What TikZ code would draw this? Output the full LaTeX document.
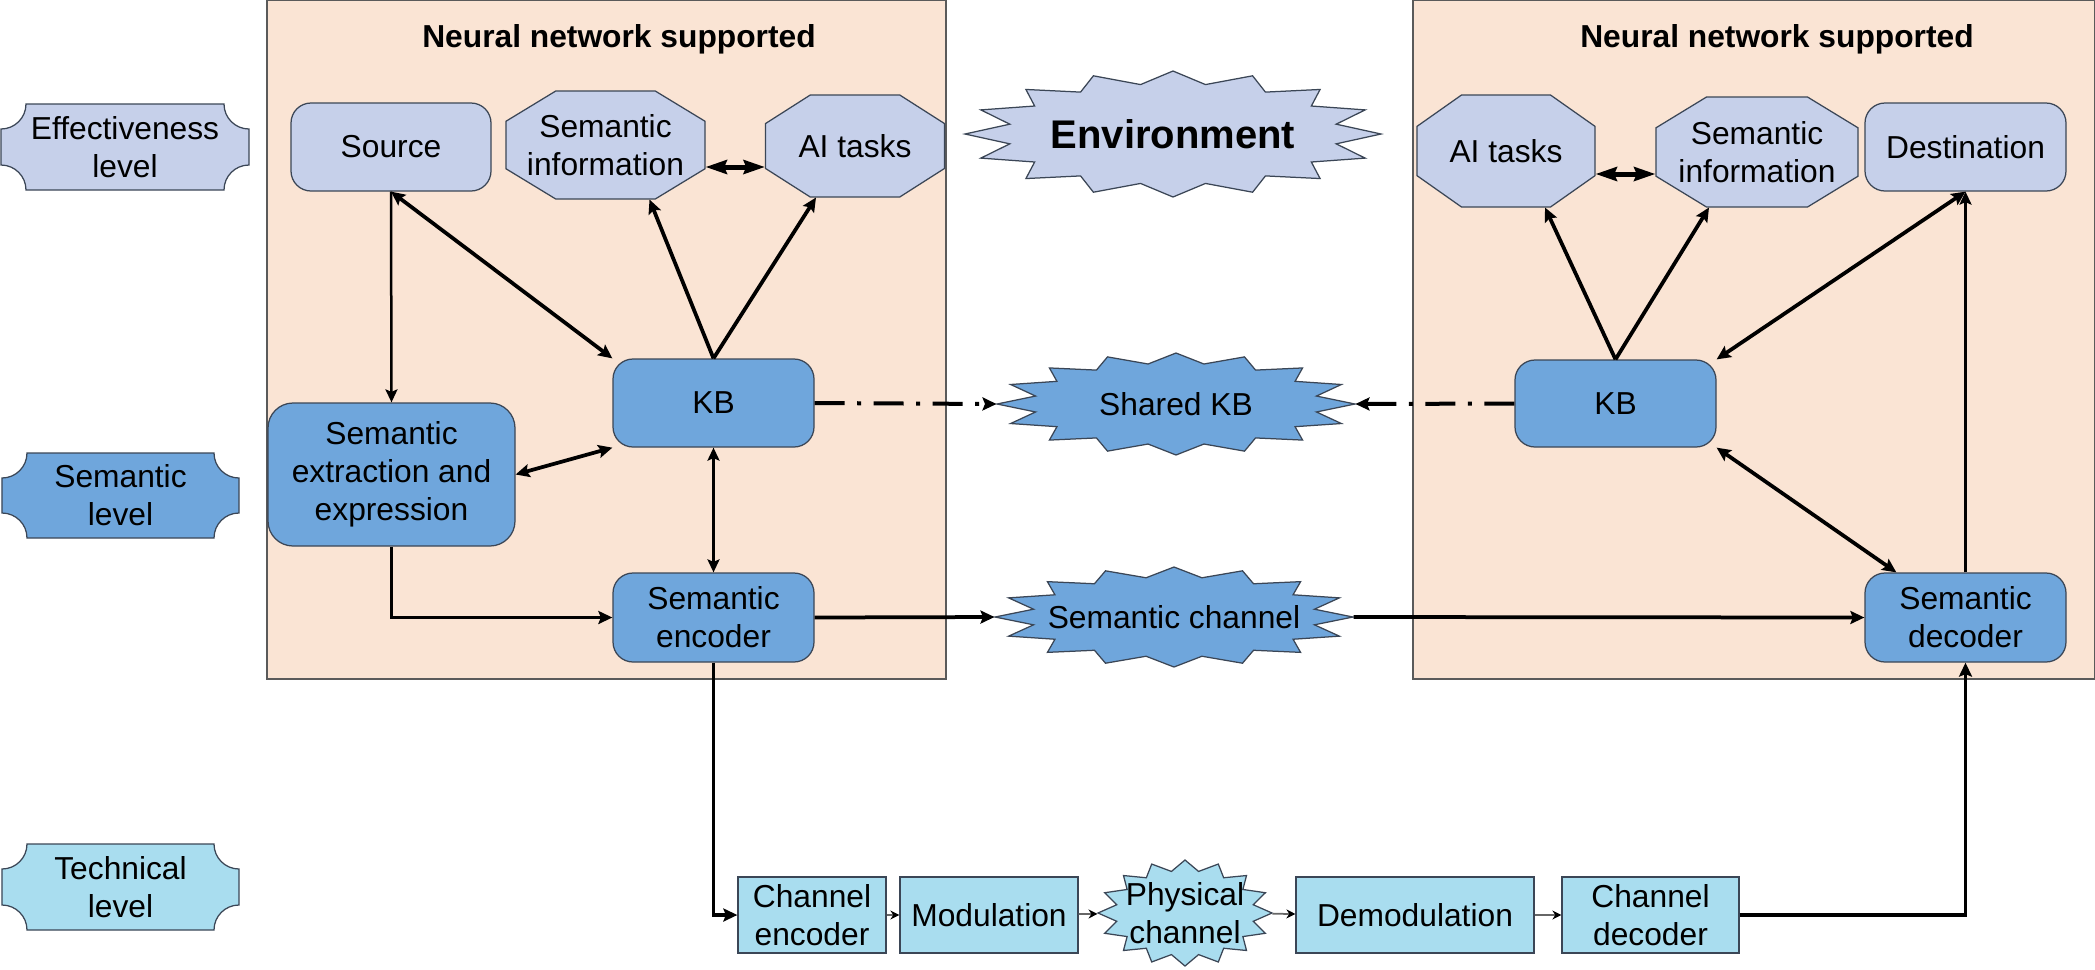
\documentclass[tikz,border=0pt]{standalone}
\usepackage{fontspec}
\setmainfont{Liberation Sans}
\usetikzlibrary{shapes.geometric,arrows.meta,calc}
\definecolor{lav}{HTML}{C6D0EA}
\definecolor{sblue}{HTML}{6FA6DC}
\definecolor{tcyan}{HTML}{A9DDEF}
\definecolor{peach}{HTML}{FAE4D4}
\definecolor{edgec}{HTML}{3B4656}
\definecolor{boxedge}{HTML}{5A5A5A}

% octagon: name, cx, cy, w, h, fill, text
\newcommand\octo[7]{%
  \pgfmathsetmacro\oxa{#2-#4/2}\pgfmathsetmacro\oxb{#2+#4/2}%
  \pgfmathsetmacro\oya{#3-#5/2}\pgfmathsetmacro\oyb{#3+#5/2}%
  \pgfmathsetmacro\ocx{0.25*#4}\pgfmathsetmacro\ocy{0.28*#5}%
  \draw[shp, fill=#6] (\oxa+\ocx,\oya) -- (\oxb-\ocx,\oya) -- (\oxb,\oya+\ocy) -- (\oxb,\oyb-\ocy) -- (\oxb-\ocx,\oyb) -- (\oxa+\ocx,\oyb) -- (\oxa,\oyb-\ocy) -- (\oxa,\oya+\ocy) -- cycle;
  \node[txt, minimum width=#4*0.4pt, minimum height=#5*0.4pt] (#1) at (#2,#3) {#7};
}
% plaque (concave corners): name, cx, cy, w, h, fill, text
\newcommand\plaque[7]{%
  \pgfmathsetmacro\pxa{#2-#4/2}\pgfmathsetmacro\pxb{#2+#4/2}%
  \pgfmathsetmacro\pya{#3-#5/2}\pgfmathsetmacro\pyb{#3+#5/2}%
  \draw[shp, fill=#6] (\pxa+25,\pya) -- (\pxb-25,\pya)
    .. controls (\pxb-25,\pya+13.8) and (\pxb-13.8,\pya+25) .. (\pxb,\pya+25)
    -- (\pxb,\pyb-25)
    .. controls (\pxb-13.8,\pyb-25) and (\pxb-25,\pyb-13.8) .. (\pxb-25,\pyb)
    -- (\pxa+25,\pyb)
    .. controls (\pxa+25,\pyb-13.8) and (\pxa+13.8,\pyb-25) .. (\pxa,\pyb-25)
    -- (\pxa,\pya+25)
    .. controls (\pxa+13.8,\pya+25) and (\pxa+25,\pya+13.8) .. (\pxa+25,\pya) -- cycle;
  \node[txt] (#1) at (#2,#3) {#7};
}
% star: name, cx, cy, rx, ry, fill, text
\newcommand\starn[7]{%
  \draw[shp, fill=#6] plot[variable=\sv, samples at={0,...,31}]
    ({#2+(1-0.2*mod(\sv,2))*#4*cos(\sv*11.25)},{#3+(1-0.2*mod(\sv,2))*#5*sin(\sv*11.25)}) -- cycle;
  \node[txt, ellipse, minimum width=2*#4*0.4pt, minimum height=2*#5*0.4pt] (#1) at (#2,#3) {#7};
}

\begin{document}
\begin{tikzpicture}[x=0.4pt,y=-0.4pt,
  txt/.style={font=\fontsize{12.7}{15.2}\selectfont, align=center, inner sep=0pt, text=black},
  shp/.style={draw=edgec, line width=0.5pt},
  rbox/.style={txt, shp, rounded corners=8pt},
  sbox/.style={txt, shp, fill=tcyan},
  nnbox/.style={draw=boxedge, line width=0.6pt, fill=peach},
  ttl/.style={font=\fontsize{12.7}{15.2}\selectfont\bfseries, inner sep=0pt, anchor=base},
  tip/.style={Stealth[length=5.6pt,width=5.2pt,inset=1pt]},
  con/.style={line width=1.5pt, -{Stealth[length=5.6pt,width=5.2pt,inset=1pt]}},
  dcon/.style={line width=1.5pt, {Stealth[length=5.6pt,width=5.2pt,inset=1pt]}-{Stealth[length=5.6pt,width=5.2pt,inset=1pt]}},
  mcon/.style={line width=1pt, -{Stealth[length=5.2pt,width=4.8pt,inset=1pt]}},
  mdcon/.style={line width=1pt, {Stealth[length=5.2pt,width=4.8pt,inset=1pt]}-{Stealth[length=5.2pt,width=4.8pt,inset=1pt]}},
  bigdbl/.style={line width=2pt, {Stealth[length=8.5pt,width=5.5pt,inset=1pt]}-{Stealth[length=8.5pt,width=5.5pt,inset=1pt]}},
  kbdash/.style={line width=1.6pt, dash pattern=on 12pt off 5pt on 1.6pt off 5pt, -{Stealth[length=5.6pt,width=5.2pt,inset=1pt]}},
  chainarr/.style={line width=0.7pt, draw=black!60, -{Stealth[length=3.6pt,width=3.6pt,color=black]}}
]
\useasboundingbox (0,0) rectangle (2095,969);

% neural network boxes
\draw[nnbox] (267,0.5) rectangle (946,679);
\draw[nnbox] (1413,0.5) rectangle (2094.5,679);
\node[ttl] (ttlL) at (619,47) {Neural network supported};
\node[ttl] (ttlR) at (1777,47) {Neural network supported};

% level plaques
\plaque{effl}{125}{147}{248}{86}{lav}{Effectiveness\\level}
\plaque{seml}{120.5}{495.5}{237}{85}{sblue}{Semantic\\level}
\plaque{tecl}{120.5}{887}{237}{86}{tcyan}{Technical\\level}

% stars
\starn{env}{1173}{134}{208}{63}{lav}{\fontsize{16}{19}\selectfont\bfseries Environment}
\starn{skb}{1176}{404}{179}{51}{sblue}{Shared KB}
\starn{sch}{1174}{617}{179}{50}{sblue}{Semantic channel}
\starn{phy}{1185}{913}{87}{53}{tcyan}{Physical\\channel}

% left side
\node[rbox, fill=lav, minimum width=200*0.4pt, minimum height=88*0.4pt] (src) at (391,147) {Source};
\octo{sil}{605.5}{145}{199}{108}{lav}{Semantic\\information}
\octo{ail}{855}{146}{179}{102}{lav}{AI tasks}
\node[rbox, fill=sblue, minimum width=201*0.4pt, minimum height=88*0.4pt] (kbl) at (713.5,403) {KB};
\node[rbox, fill=sblue, rounded corners=10pt, minimum width=247*0.4pt, minimum height=143*0.4pt] (ext) at (391.5,474.5) {Semantic\\extraction and\\expression};
\node[rbox, fill=sblue, minimum width=201*0.4pt, minimum height=89*0.4pt] (enc) at (713.5,617.5) {Semantic\\encoder};

% right side
\octo{air}{1506}{151}{178}{112}{lav}{AI tasks}
\octo{sir}{1757}{152}{202}{110}{lav}{Semantic\\information}
\node[rbox, fill=lav, minimum width=201*0.4pt, minimum height=88*0.4pt] (dest) at (1965.5,147) {Destination};
\node[rbox, fill=sblue, minimum width=201*0.4pt, minimum height=87*0.4pt] (kbr) at (1615.5,403.5) {KB};
\node[rbox, fill=sblue, minimum width=201*0.4pt, minimum height=89*0.4pt] (sdec) at (1965.5,617.5) {Semantic\\decoder};

% technical chain
\node[sbox, minimum width=148*0.4pt, minimum height=76*0.4pt] (cenc) at (812,915) {Channel\\encoder};
\node[sbox, minimum width=178*0.4pt, minimum height=76*0.4pt] (modu) at (989,915) {Modulation};
\node[sbox, minimum width=238*0.4pt, minimum height=76*0.4pt] (demod) at (1415,915) {Demodulation};
\node[sbox, minimum width=177*0.4pt, minimum height=76*0.4pt] (cdec) at (1650.5,915) {Channel\\decoder};

% connectors left
\draw[mcon] (src.south) -- (ext.north);
\draw[dcon] (src.south) -- (kbl.north west);
\draw[con] (kbl.north) -- ($(sil.south)+(44,0)$);
\draw[con] (kbl.north) -- ($(ail.south)+(-39,0)$);
\draw[bigdbl] ($(sil.east)+(0,22)$) -- ($(ail.west)+(0,21)$);
\draw[dcon] (ext.east) -- (kbl.south west);
\draw[mdcon] (kbl.south) -- (enc.north);
\draw[con] (ext.south) |- (enc.west);
\draw[kbdash] (kbl.east) -- (skb.west);
\draw[con] (enc.east) -- (sch.west);
\draw[con] (enc.south) |- (cenc.west);

% connectors right
\draw[kbdash] (kbr.west) -- (skb.east);
\draw[con] (sch.east) -- (sdec.west);
\draw[con] (kbr.north) -- ($(air.south)+(39,0)$);
\draw[con] (kbr.north) -- ($(sir.south)+(-48,0)$);
\draw[bigdbl] ($(air.east)+(0,23)$) -- ($(sir.west)+(0,22)$);
\draw[dcon] (dest.south) -- (kbr.north east);
\draw[dcon] (kbr.south east) -- ($(sdec.north west)+(32,0)$);
\draw[mcon] (sdec.north) -- (dest.south);
\draw[con] (cdec.east) -| (sdec.south);

% technical chain connectors
\draw[chainarr] (cenc) -- (modu);
\draw[chainarr] (modu) -- (phy);
\draw[chainarr] (phy) -- (demod);
\draw[chainarr] (demod) -- (cdec);
\end{tikzpicture}
\end{document}
